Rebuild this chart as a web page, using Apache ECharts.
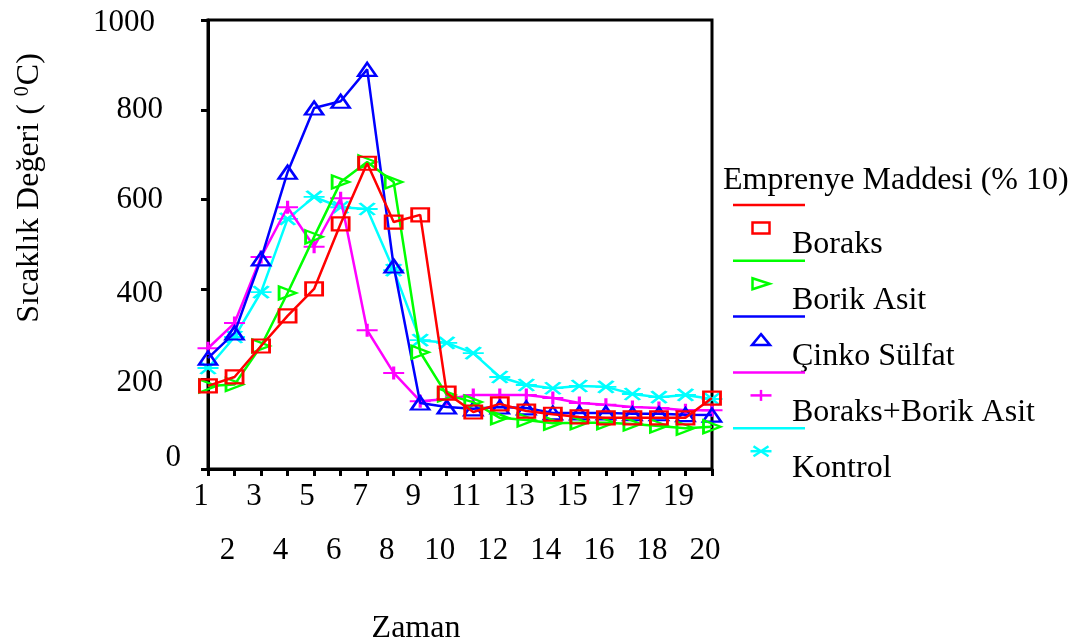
<!DOCTYPE html>
<html>
<head>
<meta charset="utf-8">
<script src="https://cdn.jsdelivr.net/npm/echarts@6/dist/echarts.min.js"></script>
<style>html,body{margin:0;padding:0;background:#fff}#c{width:1075px;height:642px}</style>
</head>
<body>
<div id="c"></div>
<script>
const categories = ['1','2','3','4','5','6','7','8','9','10','11','12','13','14','15','16','17','18','19','20'];
const seriesNames = ['Boraks', 'Borik Asit', 'Çinko Sülfat', 'Boraks+Borik Asit', 'Kontrol'];
const boraks      = [185, 205, 274, 341, 401, 546, 681, 550, 566, 169, 127, 145, 129, 122, 116, 114, 114, 114, 114, 158];
const borikAsit   = [185, 188, 274, 392, 517, 639, 684, 639, 260, 165, 149, 114, 109, 102, 103, 103, 100, 96, 91, 94];
const cinkoSulfat = [247, 303, 468, 661, 804, 819, 890, 452, 147, 138, 134, 138, 136, 125, 125, 125, 123, 123, 121, 120];
const boraksBorik = [269, 325, 472, 583, 495, 603, 309, 214, 151, 156, 165, 165, 165, 158, 147, 143, 138, 136, 131, 131];
const kontrol     = [225, 294, 394, 557, 606, 583, 579, 443, 287, 281, 258, 205, 187, 180, 185, 183, 167, 160, 165, 156];
const yTickLabels = ['0', '200', '400', '600', '800', '1000'];
const legendTitle = 'Emprenye Maddesi (% 10)';
const xTitle = 'Zaman';

const allData = [boraks, borikAsit, cinkoSulfat, boraksBorik, kontrol];
const colors = ['#ff0000', '#00ff00', '#0000ff', '#ff00ff', '#00ffff'];
const paths = [
  'M0,0H17V13H0Z',
  'M0,0L17,6.5L0,13Z',
  'M9,0L18,13H0Z',
  'M0,6.5H21M10.5,0V13',
  'M0,6H21M3,0L18,12M18,0L3,12'
];
const sizes = [[17,13],[17,13],[18,13],[21,13],[21,12]];
const FONT = "'Liberation Serif', 'Times New Roman', serif";
const LW = 2.5;

const series = seriesNames.map((name, i) => ({
  name: name,
  type: 'line',
  data: allData[i],
  symbol: 'path://' + paths[i],
  symbolSize: sizes[i],
  symbolKeepAspect: false,
  showAllSymbol: true,
  clip: false,
  z: 10 - i,
  lineStyle: { color: colors[i], width: LW },
  itemStyle: { color: 'rgba(0,0,0,0)', borderColor: colors[i], borderWidth: LW },
  emphasis: { disabled: true },
  animation: false
}));

function legendMarker(k, cx, cy) {
  const w = sizes[k][0], h = sizes[k][1] - 2;
  const st = { fill: 'none', stroke: colors[k], lineWidth: LW };
  const x0 = cx - w / 2, y0 = cy - h / 2;
  if (k === 0) return [{ type: 'rect', shape: { x: x0, y: y0, width: w, height: h }, style: st }];
  if (k === 1) return [{ type: 'polygon', shape: { points: [[x0, y0], [x0 + w, cy], [x0, y0 + h]] }, style: st }];
  if (k === 2) return [{ type: 'polygon', shape: { points: [[cx, y0], [x0 + w, y0 + h], [x0, y0 + h]] }, style: st }];
  if (k === 3) return [
    { type: 'line', shape: { x1: x0, y1: cy, x2: x0 + w, y2: cy }, style: st },
    { type: 'line', shape: { x1: cx, y1: y0, x2: cx, y2: y0 + h }, style: st }
  ];
  return [
    { type: 'line', shape: { x1: x0, y1: cy, x2: x0 + w, y2: cy }, style: st },
    { type: 'line', shape: { x1: x0 + 3, y1: y0, x2: x0 + w - 3, y2: y0 + h }, style: st },
    { type: 'line', shape: { x1: x0 + w - 3, y1: y0, x2: x0 + 3, y2: y0 + h }, style: st }
  ];
}

const graphics = [];
graphics.push({
  type: 'text', x: 723, y: 181,
  style: { text: legendTitle, font: '32px ' + FONT, fill: '#000', align: 'left', verticalAlign: 'middle' }
});
seriesNames.forEach((name, k) => {
  const ly = 205 + 55.8 * k;
  graphics.push({
    type: 'line',
    shape: { x1: 733, y1: ly, x2: 805, y2: ly },
    style: { stroke: colors[k], lineWidth: LW }
  });
  legendMarker(k, 761, 228 + 55.8 * k).forEach(e => graphics.push(e));
  graphics.push({
    type: 'text', x: 792, y: 245 + 55.8 * k,
    style: { text: name, font: '32px ' + FONT, fill: '#000', align: 'left', verticalAlign: 'middle' }
  });
});
graphics.push({
  type: 'text', x: 416, y: 629,
  style: { text: xTitle, font: '32px ' + FONT, fill: '#000', align: 'center', verticalAlign: 'middle' }
});
graphics.push({
  type: 'text', x: 28, y: 188, rotation: Math.PI / 2,
  style: {
    text: '{n|Sıcaklık Değeri ( }{s|0}{n|C)}',
    align: 'center', verticalAlign: 'middle', fill: '#000',
    rich: {
      n: { fontSize: 32, fontFamily: FONT, lineHeight: 36, verticalAlign: 'bottom' },
      s: { fontSize: 20, fontFamily: FONT, lineHeight: 36, verticalAlign: 'bottom', padding: [0, 1, 13, 0] }
    }
  }
});

const yRichName = { '0': 'z', '200': 'm', '400': 'm', '600': 'p', '800': 'p', '1000': 'k' };

const option = {
  animation: false,
  grid: { left: 208, top: 20, width: 504, height: 449, show: true, borderColor: '#000', borderWidth: 3, backgroundColor: 'transparent' },
  xAxis: {
    type: 'category',
    data: categories,
    boundaryGap: false,
    axisLine: { lineStyle: { color: '#000', width: 3 } },
    axisTick: { show: true, inside: false, length: 7, interval: 0, lineStyle: { color: '#000', width: 3 } },
    axisLabel: {
      interval: 0, margin: 13, color: '#000',
      formatter: (v, idx) => (idx % 2 === 0 ? '{a|' + v + '}' : '{b|' + v + '}'),
      rich: {
        a: { fontSize: 31, fontFamily: FONT, lineHeight: 30, padding: [0, 14, 0, 0] },
        b: { fontSize: 31, fontFamily: FONT, lineHeight: 30, padding: [108, 14, 0, 0] }
      }
    },
    splitLine: { show: false }
  },
  yAxis: {
    type: 'value', min: 0, max: 1000, interval: 200,
    axisLine: { show: true, lineStyle: { color: '#000', width: 3 } },
    axisTick: { show: true, inside: false, length: 7, lineStyle: { color: '#000', width: 3 } },
    axisLabel: {
      margin: 27, color: '#000',
      formatter: (v) => { const s = String(v); return '{' + yRichName[s] + '|' + yTickLabels[yTickLabels.indexOf(s)] + '}'; },
      rich: {
        z: { fontSize: 31, fontFamily: FONT, padding: [0, 0, 22, 0] },
        m: { fontSize: 31, fontFamily: FONT, padding: [8, 18, 0, 0] },
        p: { fontSize: 31, fontFamily: FONT, padding: [0, 18, 0, 0] },
        k: { fontSize: 31, fontFamily: FONT, padding: [6, 26, 0, 0] }
      }
    },
    splitLine: { show: false }
  },
  series: series,
  graphic: { elements: graphics }
};

const chart = echarts.init(document.getElementById('c'), null, { renderer: 'canvas' });
chart.setOption(option);
</script>
</body>
</html>
